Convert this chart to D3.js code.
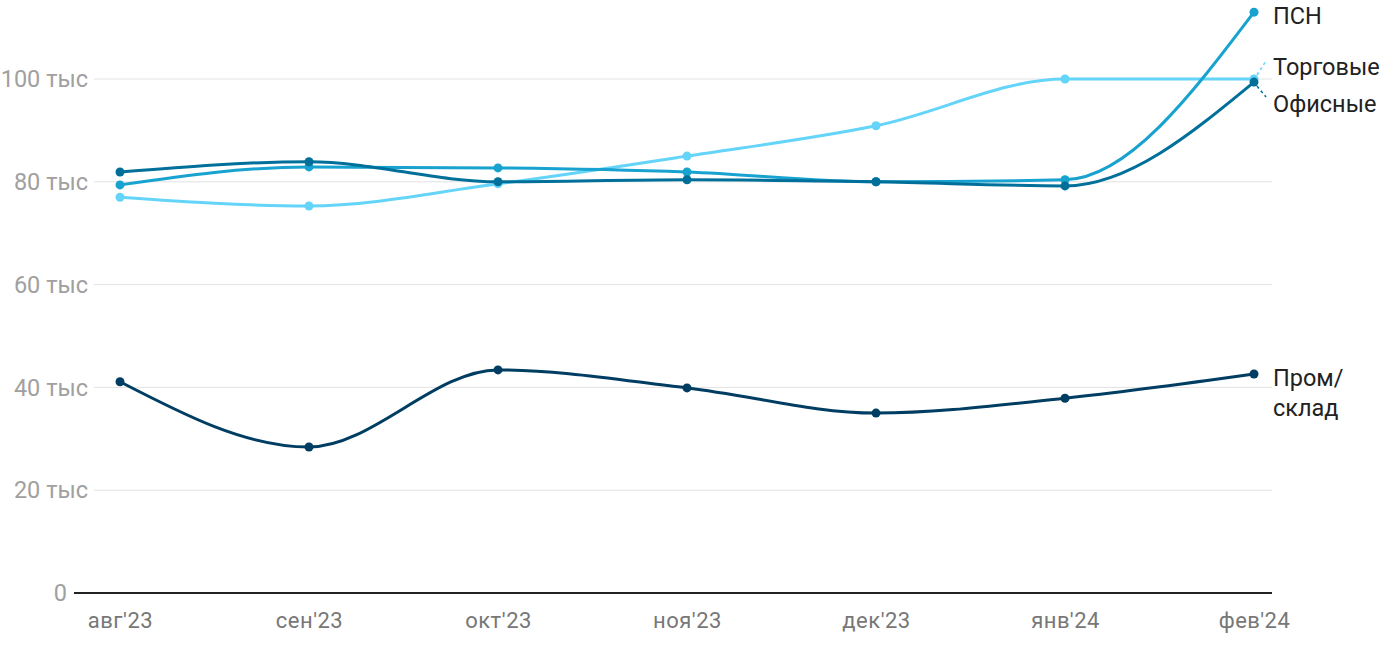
<!DOCTYPE html>
<html><head><meta charset="utf-8">
<script src="https://cdn.jsdelivr.net/npm/d3@7"></script>
<style>body{margin:0;background:#fff;} svg{display:block;font-family:Roboto, "Noto Sans", sans-serif;}</style>
</head><body><svg id="c" width="1400" height="650"></svg>
<script>
const months = ["авг'23","сен'23","окт'23","ноя'23","дек'23","янв'24","фев'24"];
const yTicks = [0,20,40,60,80,100];
const torg = [77.0,75.3,79.6,85.0,90.9,100.0,100.0];
const psn = [79.4,82.9,82.7,81.9,80.0,80.4,113.0];
const ofis = [81.9,83.9,80.0,80.4,80.0,79.2,99.4];
const prom = [41.1,28.4,43.4,39.9,35.0,37.9,42.6];
const seriesNames = ["Торговые","ПСН","Офисные","Пром/склад"];
const colors = ["#64d4f9","#17a2cf","#00709a","#003d62"];

const svg = d3.select("#c");
const x = d3.scalePoint().domain(months).range([120,1254]);
const y = d3.scaleLinear().domain([0,100]).range([593,79]);

// grid
svg.append("g").selectAll("line").data(yTicks.filter(d=>d>0)).join("line")
  .attr("x1",94).attr("x2",1272).attr("y1",d=>y(d)).attr("y2",d=>y(d))
  .attr("stroke","#e2e2e2").attr("stroke-width",1);
svg.append("g").selectAll("text").data(yTicks).join("text")
  .attr("x",d=>d===0?67:88).attr("y",d=>y(d)).attr("dy","0.35em").attr("text-anchor","end")
  .attr("fill","#a0a0a0").attr("font-size",23.5)
  .text(d=>d===0?"0":d+" тыс");
// baseline
svg.append("line").attr("x1",74).attr("x2",1272).attr("y1",y(0)).attr("y2",y(0))
  .attr("stroke","#222").attr("stroke-width",2);
// x axis labels
const xa = svg.append("g").attr("transform","translate(0,620)").call(d3.axisBottom(x).tickSize(0).tickPadding(0));
xa.select(".domain").remove();
xa.selectAll("text").attr("font-size",22).attr("letter-spacing","0.5px").attr("fill","#777").attr("font-family","Roboto, sans-serif").attr("dy","0.35em");

const data = [torg,psn,ofis,prom];
const line = d3.line().x((d,i)=>x(months[i])).y(d=>y(d)).curve(d3.curveMonotoneX);
// draw order: prom, torg, psn, ofis
[3,0,1,2].forEach(k=>{
  svg.append("path").attr("d",line(data[k])).attr("fill","none")
    .attr("stroke",colors[k]).attr("stroke-width",3).attr("stroke-linecap","round");
  svg.append("g").selectAll("circle").data(data[k]).join("circle")
    .attr("cx",(d,i)=>x(months[i])).attr("cy",d=>y(d)).attr("r",4.5).attr("fill",colors[k]);
});

// labels
const lx = 1273;
const last = i=>data[i][6];
const labels = [
  {t:["ПСН"], y:16, k:1},
  {t:["Торговые"], y:67, k:0, conn:true},
  {t:["Офисные"], y:104, k:2, conn:true},
  {t:["Пром/","склад"], y:378, k:3}
];
labels.forEach(L=>{
  const tx = svg.append("text").attr("x",lx).attr("y",L.y)
    .attr("font-size",23.5).attr("fill","#222");
  L.t.forEach((s,i)=>tx.append("tspan").attr("x",lx).attr("dy",i===0?"0.35em":"30px").text(s));
  if(L.conn){
    const px = x(months[6]), py = y(last(L.k));
    const up = L.y<py;
    svg.append("line").attr("x1",px+3).attr("y1",py+(up?-4:4)).attr("x2",px+12).attr("y2",up?L.y-6:L.y-7)
      .attr("stroke",colors[L.k]).attr("stroke-width",1.5).attr("stroke-dasharray","3,3");
  }
});
</script></body></html>
